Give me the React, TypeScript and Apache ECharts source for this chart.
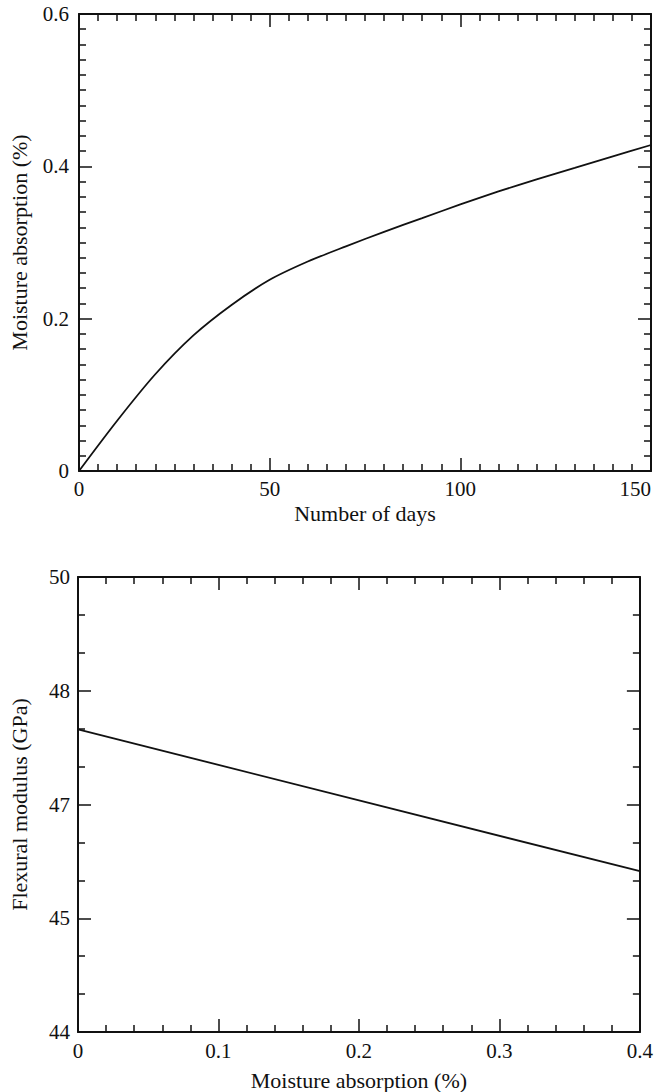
import React, { useEffect, useRef } from "react";
import * as echarts from "echarts";

const daysX = [0, 10, 20, 30, 40, 50, 60, 70, 80, 90, 100, 110, 120, 130, 140, 150];
const absorptionY = [0, 0.066, 0.127, 0.178, 0.218, 0.251, 0.275, 0.295, 0.314, 0.332, 0.35, 0.367, 0.383, 0.398, 0.413, 0.428];

const moistureX = [0, 0.4];
const modulusY = [47.99, 46.12];

const FONT = "Liberation Serif";

function axisCommon(extra: any) {
  return {
    axisLine: { show: true, onZero: false, lineStyle: { color: "#111", width: 2 } },
    axisTick: { show: true, inside: true, length: 13, lineStyle: { color: "#111", width: 1.5 } },
    minorTick: { show: true, length: 7, lineStyle: { color: "#111", width: 1.5 } },
    splitLine: { show: false },
    minorSplitLine: { show: false },
    ...extra,
  };
}

export default function App() {
  const ref = useRef<HTMLDivElement>(null);
  useEffect(() => {
    if (!ref.current) return;
    const chart = echarts.init(ref.current, undefined, { renderer: "svg" });
    const labelStyle = { color: "#111", fontFamily: FONT, fontSize: 21 };
    const nameStyle = { color: "#111", fontFamily: FONT, fontSize: 22 };
    chart.setOption({
      animation: false,
      backgroundColor: "#fff",
      grid: [
        { left: 77, top: 14, width: 574, height: 457 },
        { left: 70, top: 577, width: 573, height: 456 },
      ],
      xAxis: [
        axisCommon({
          type: "value", gridIndex: 0, position: "bottom", min: 0, max: 150, interval: 50,
          minorTick: { show: true, splitNumber: 10, length: 7, lineStyle: { color: "#111", width: 1.5 } },
          axisLabel: { ...labelStyle, margin: 7, alignMaxLabel: "right" },
          name: "Number of days", nameLocation: "middle", nameGap: 31, nameTextStyle: nameStyle,
        }),
        axisCommon({
          type: "value", gridIndex: 0, position: "top", min: 0, max: 150, interval: 50,
          minorTick: { show: true, splitNumber: 10, length: 7, lineStyle: { color: "#111", width: 1.5 } },
          axisLabel: { show: false },
        }),
        axisCommon({
          type: "value", gridIndex: 1, position: "bottom", min: 0, max: 0.4, interval: 0.1,
          minorTick: { show: true, splitNumber: 5, length: 7, lineStyle: { color: "#111", width: 1.5 } },
          axisLabel: { ...labelStyle, margin: 8 },
          name: "Moisture absorption (%)", nameLocation: "middle", nameGap: 37, nameTextStyle: nameStyle,
        }),
        axisCommon({
          type: "value", gridIndex: 1, position: "top", min: 0, max: 0.4, interval: 0.1,
          minorTick: { show: true, splitNumber: 5, length: 7, lineStyle: { color: "#111", width: 1.5 } },
          axisLabel: { show: false },
        }),
      ],
      yAxis: [
        axisCommon({
          type: "value", gridIndex: 0, position: "left", min: 0, max: 0.6, interval: 0.2,
          minorTick: { show: true, splitNumber: 10, length: 7, lineStyle: { color: "#111", width: 1.5 } },
          axisLabel: { ...labelStyle, margin: 10 },
          name: "Moisture absorption (%)", nameLocation: "middle", nameGap: 49, nameTextStyle: nameStyle,
        }),
        axisCommon({
          type: "value", gridIndex: 0, position: "right", min: 0, max: 0.6, interval: 0.2,
          minorTick: { show: true, splitNumber: 10, length: 7, lineStyle: { color: "#111", width: 1.5 } },
          axisLabel: { show: false },
        }),
        axisCommon({
          type: "value", gridIndex: 1, position: "left", min: 44, max: 50, interval: 1.5,
          minorTick: { show: true, splitNumber: 3, length: 7, lineStyle: { color: "#111", width: 1.5 } },
          axisLabel: { ...labelStyle, margin: 8, formatter: (v: number) => String(Math.floor(v)) },
          name: "Flexural modulus (GPa)", nameLocation: "middle", nameGap: 48, nameTextStyle: nameStyle,
        }),
        axisCommon({
          type: "value", gridIndex: 1, position: "right", min: 44, max: 50, interval: 1.5,
          minorTick: { show: true, splitNumber: 3, length: 7, lineStyle: { color: "#111", width: 1.5 } },
          axisLabel: { show: false },
        }),
      ],
      series: [
        {
          type: "line", xAxisIndex: 0, yAxisIndex: 0, smooth: 0.3, symbol: "none",
          lineStyle: { color: "#111", width: 1.8 },
          data: daysX.map((d, i) => [d, absorptionY[i]]),
        },
        {
          type: "line", xAxisIndex: 2, yAxisIndex: 2, symbol: "none",
          lineStyle: { color: "#111", width: 1.8 },
          data: moistureX.map((m, i) => [m, modulusY[i]]),
        },
      ],
    });
    return () => chart.dispose();
  }, []);
  return (
    <div
      ref={ref}
      style={{ position: "fixed", left: 0, top: 0, width: 656, height: 1092, background: "#fff" }}
    />
  );
}
